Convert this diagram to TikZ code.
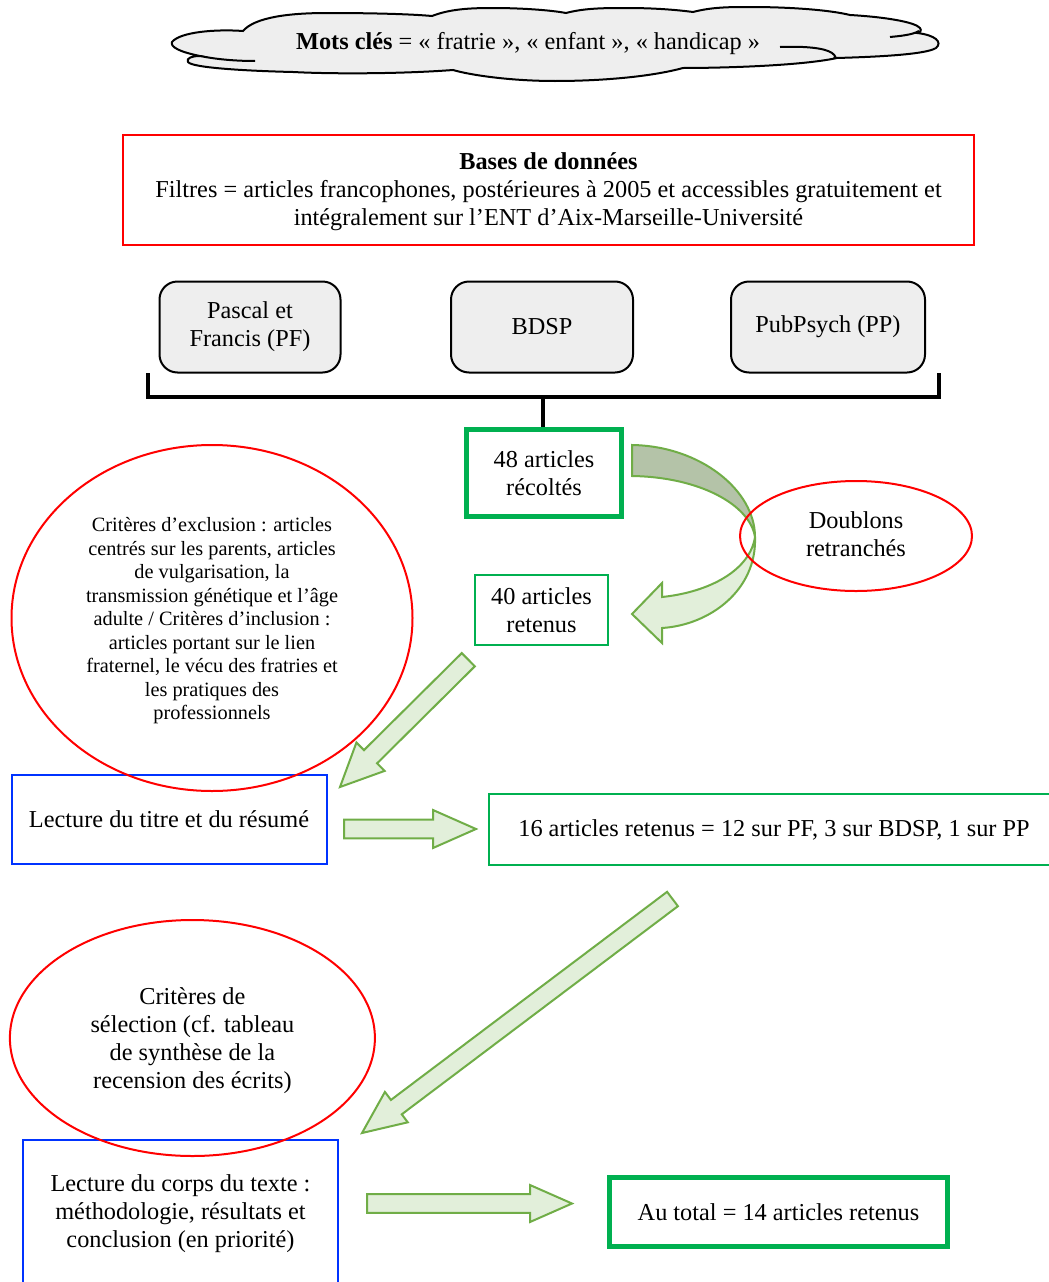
\documentclass[tikz,border=0pt]{standalone}
\usepackage{fontspec}
\setmainfont{Liberation Serif}
\usetikzlibrary{calc,shapes.geometric}
\definecolor{rd}{HTML}{FF0000}
\definecolor{gr}{HTML}{00B050}
\definecolor{bl}{HTML}{0033FF}
\definecolor{ag}{HTML}{70AD47}
\definecolor{lg}{HTML}{E2EFDA}
\definecolor{dg}{HTML}{B4C3A8}
\definecolor{cg}{HTML}{EEEEEE}
\tikzset{
  base/.style={inner sep=0pt, align=center, font=\fontsize{24.3}{28}\selectfont},
  small/.style={inner sep=0pt, align=center, font=\fontsize{20.3}{23.5}\selectfont},
  redbox/.style={base, draw=rd, line width=2pt},
  dbbox/.style={base, draw=black, line width=2pt, fill=cg, rounded corners=18pt},
  thickg/.style={base, draw=gr, line width=5pt},
  thing/.style={base, draw=gr, line width=2pt},
  bluebox/.style={base, draw=bl, line width=2pt},
  redell/.style={ellipse, draw=rd, line width=2pt},
  blockarrow/.style={draw=ag, line width=2pt, fill=lg, line join=miter},
  cloudline/.style={draw=black, line width=2pt},
  bracket/.style={draw=black, line width=4pt},
}
\newcommand{\barrow}[5]{%
  \coordinate (#1-#2-h) at ($(#2)!#5!(#1)$);
  \draw[blockarrow] ($(#1)!#3!90:(#2)$) -- ($(#1-#2-h)!#3!-90:(#1)$)
    -- ($(#1-#2-h)!#4!-90:(#1)$) -- (#2) -- ($(#1-#2-h)!#4!90:(#1)$)
    -- ($(#1-#2-h)!#3!90:(#1)$) -- ($(#1)!#3!-90:(#2)$) -- cycle;
}
\begin{document}
\begin{tikzpicture}[x=1pt,y=-1pt]
\useasboundingbox (0,0) rectangle (1049,1282);
\fill[white] (0,0) rectangle (1049,1282);

% cloud
\path[cloudline, fill=cg] (172,42)
  .. controls (180,32) and (215,29) .. (243,31)
  .. controls (255,17) and (290,13) .. (327,13)
  .. controls (370,13) and (410,14) .. (432,16)
  .. controls (450,9) and (470,8) .. (493,8)
  .. controls (520,8) and (550,10) .. (566,13)
  .. controls (585,8) and (605,8) .. (627,8)
  .. controls (655,8) and (678,10) .. (693,12)
  .. controls (712,7) and (730,7) .. (750,7)
  .. controls (790,7) and (830,10) .. (850,15)
  .. controls (885,17) and (915,22) .. (920,28)
  .. controls (922,31) and (920,32) .. (917,33)
  .. controls (935,35) and (943,42) .. (936,48)
  .. controls (925,55) and (870,57) .. (837,58)
  .. controls (800,66) and (720,68) .. (683,68)
  .. controls (650,77) and (600,81) .. (555,81)
  .. controls (510,81) and (470,75) .. (453,70)
  .. controls (400,74) and (330,74) .. (293,72)
  .. controls (250,71) and (192,68) .. (188,62)
  .. controls (186,58) and (192,56) .. (200,56)
  .. controls (180,52) and (170,47) .. (172,42) -- cycle;
\draw[cloudline] (200,56) .. controls (220,60) and (240,61) .. (255,61);
\draw[cloudline] (919,31) .. controls (912,35) and (900,36) .. (890,37);
\draw[cloudline] (780,47) .. controls (805,46) and (825,48) .. (832,53)
  .. controls (836,56) and (836,58) .. (834,58);
\node[base] (mots) at (528,44) {\textbf{Mots clés} = « fratrie », « enfant », « handicap »};

% databases
\node[redbox, minimum width=851pt, minimum height=110pt] (db) at (548.5,190) {};
\node[base] (dbtext) at (548.5,192)
  {\textbf{Bases de données}\\Filtres = articles francophones, postérieures à 2005 et accessibles gratuitement et\\intégralement sur l’ENT d’Aix-Marseille-Université};
\node[dbbox, minimum width=181pt, minimum height=91pt] (pf) at (250,327) {Pascal et\\Francis (PF)};
\node[dbbox, minimum width=182pt, minimum height=91pt] (bdsp) at (542,327) {BDSP};
\node[dbbox, minimum width=194pt, minimum height=91pt] (pp) at (828,327) {PubPsych (PP)};

\node[thickg, minimum width=155pt, minimum height=87pt] (a48) at (544,473) {48 articles\\récoltés};
\node[thing, minimum width=133pt, minimum height=70pt] (a40) at (541.5,610) {40 articles\\retenus};

% bracket
\coordinate (bl) at (148,373);
\coordinate (br) at (939,373);
\coordinate (bm) at (543,397);
\draw[bracket, line join=miter] (bl) -- (bl |- bm) -- (br |- bm) -- (br);
\draw[bracket] (bm) -- (bm |- a48.north);

\node[bluebox, minimum width=315pt, minimum height=89pt] (lect1) at (169,819.5) {Lecture du titre et du résumé};
\node[thing, minimum width=570pt, minimum height=71pt] (r16) at (774,829.5) {16 articles retenus = 12 sur PF, 3 sur BDSP, 1 sur PP};
\node[bluebox, minimum width=315pt, minimum height=147pt] (lect2) at (180.5,1213.5) {Lecture du corps du texte :\\méthodologie, résultats et\\conclusion (en priorité)};
\node[thickg, minimum width=338pt, minimum height=69pt] (total) at (778.5,1212) {Au total = 14 articles retenus};

% straight block arrows
\coordinate (a1t) at (468.3,659.7);
\coordinate (a1h) at (340,787);
\coordinate (a2t) at (344,829);
\coordinate (a2h) at (476,829);
\coordinate (a3t) at (672.5,899);
\coordinate (a3h) at (362,1133);
\coordinate (a4t) at (367,1203.5);
\coordinate (a4h) at (572,1203.5);
\barrow{a1t}{a1h}{9.3pt}{20pt}{43pt}
\barrow{a2t}{a2h}{9.3pt}{19pt}{43pt}
\barrow{a3t}{a3h}{9pt}{19pt}{43pt}
\barrow{a4t}{a4h}{9.3pt}{18.5pt}{42pt}

% curved arrow
\draw[blockarrow] (755,537) .. controls (757,590) and (710,625) .. (662,628)
  -- (662,643) -- (632,614) -- (662,583) -- (662,597)
  .. controls (710,592) and (750,570) .. (755,537) -- cycle;
\draw[blockarrow, fill=dg] (632,445) .. controls (700,446) and (755,490) .. (755,537)
  .. controls (750,505) and (700,477) .. (632,476) -- cycle;

% ellipses
\node[redell, minimum width=232pt, minimum height=110pt] (doub) at (856,536) {};
\node[base] at (856,534) {Doublons\\retranchés};
\node[redell, minimum width=401pt, minimum height=346pt] (excl) at (212,618) {};
\node[small] at (212,621) {Critères d’exclusion : articles\\centrés sur les parents, articles\\de vulgarisation, la\\transmission génétique et l’âge\\adulte / Critères d’inclusion :\\articles portant sur le lien\\fraternel, le vécu des fratries et\\les pratiques des\\professionnels};
\node[redell, minimum width=365pt, minimum height=236pt] (sel) at (192.4,1038) {};
\node[base] at (192.4,1041) {Critères de\\sélection (cf. tableau\\de synthèse de la\\recension des écrits)};
\end{tikzpicture}
\end{document}
